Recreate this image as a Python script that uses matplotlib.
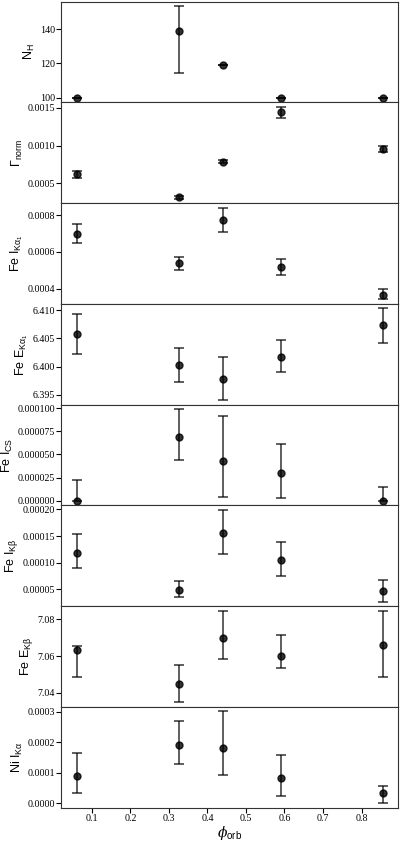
import numpy as np
import matplotlib
matplotlib.use('Agg')
import matplotlib.pyplot as plt

plt.rcParams['font.family'] = 'Liberation Serif'
plt.rcParams['mathtext.fontset'] = 'custom'
plt.rcParams['mathtext.rm'] = 'Liberation Sans'
plt.rcParams['mathtext.it'] = 'DejaVu Serif:italic'
plt.rcParams['mathtext.default'] = 'regular'

# orbital phase of each observation
phase = [0.06, 0.325, 0.44, 0.59, 0.855]

# fitted parameters: value, lower error, upper error
nh = [100, 139, 119, 100, 100]
nh_lo = [0, 24.7, 0, 0, 0]
nh_hi = [0, 14.3, 0, 0, 0]

gamma = [0.00062, 0.000317, 0.000782, 0.00144, 0.000955]
gamma_lo = [0.000045, 0.00002, 0.00002, 0.00007, 0.00004]
gamma_hi = [0.000045, 0.00002, 0.00002, 0.00007, 0.00004]

ika1 = [0.000696, 0.000538, 0.000773, 0.000518, 0.000367]
ika1_lo = [0.000049, 0.000038, 0.000064, 0.000042, 0.000025]
ika1_hi = [0.000055, 0.000036, 0.000067, 0.000043, 0.000033]

eka1 = [6.40577, 6.40023, 6.39786, 6.40178, 6.40731]
eka1_lo = [0.00356, 0.00303, 0.0038, 0.00272, 0.00315]
eka1_hi = [0.00347, 0.00304, 0.00379, 0.00297, 0.00299]

ics = [0.0, 0.0000689, 0.0000432, 0.0000296, 0.0]
ics_lo = [0.0, 0.0000243, 0.0000386, 0.0000271, 0.0]
ics_hi = [0.0000225, 0.00003, 0.0000482, 0.0000318, 0.0000146]

ikb = [0.000119, 0.0000489, 0.000156, 0.000106, 0.0000463]
ikb_lo = [0.0000296, 0.0000138, 0.000039, 0.0000309, 0.0000192]
ikb_hi = [0.000034, 0.0000166, 0.000043, 0.000033, 0.0000218]

ekb = [7.0635, 7.0446, 7.0701, 7.0598, 7.0659]
ekb_lo = [0.0152, 0.0099, 0.0115, 0.0066, 0.0175]
ekb_hi = [0.0018, 0.0107, 0.0147, 0.0115, 0.0187]

nika = [0.0000902, 0.000192, 0.000182, 0.000083, 0.000034]
nika_lo = [0.0000575, 0.000063, 0.000089, 0.000061, 0.000034]
nika_hi = [0.000075, 0.000076, 0.000119, 0.000076, 0.000021]

labels = [r'N$_{H}$', r'$\Gamma_{norm}$', r'Fe I$_{K\alpha_1}$', r'Fe E$_{K\alpha_1}$',
          r'Fe I$_{CS}$', r'Fe I$_{K\beta}$', r'Fe E$_{K\beta}$', r'Ni I$_{K\alpha}$']
values = [nh, gamma, ika1, eka1, ics, ikb, ekb, nika]
lows = [nh_lo, gamma_lo, ika1_lo, eka1_lo, ics_lo, ikb_lo, ekb_lo, nika_lo]
highs = [nh_hi, gamma_hi, ika1_hi, eka1_hi, ics_hi, ikb_hi, ekb_hi, nika_hi]
yticks = [[100, 120, 140],
          [0.0005, 0.0010, 0.0015],
          [0.0004, 0.0006, 0.0008],
          [6.395, 6.400, 6.405, 6.410],
          [0.0, 0.000025, 0.00005, 0.000075, 0.0001],
          [0.00005, 0.0001, 0.00015, 0.0002],
          [7.04, 7.06, 7.08],
          [0.0, 0.0001, 0.0002, 0.0003]]
yfmt = ['{:.0f}', '{:.4f}', '{:.4f}', '{:.3f}', '{:.6f}', '{:.5f}', '{:.2f}', '{:.4f}']

fig, axes = plt.subplots(8, 1, figsize=(4, 8.43), dpi=100, sharex=True)
fig.subplots_adjust(left=0.153, right=0.995, top=0.998, bottom=0.042, hspace=0)

for i, ax in enumerate(axes):
    ax.errorbar(phase, values[i], yerr=[lows[i], highs[i]], fmt='o', color='k',
                ms=5, alpha=0.8, capsize=3.5, elinewidth=1.1, capthick=1.1)
    ax.set_yticks(yticks[i])
    ax.set_yticklabels([yfmt[i].format(v) for v in yticks[i]])
    ax.set_ylabel(labels[i], fontsize=9, family='Liberation Sans', labelpad=2)
    ax.tick_params(axis='both', labelsize=7.2, length=3.5, pad=1)
    for side in ['right', 'left', 'top', 'bottom']:
        ax.spines[side].set_color('#333333')

axes[-1].set_xticks([0.1, 0.2, 0.3, 0.4, 0.5, 0.6, 0.7, 0.8])
axes[-1].set_xlabel(r'$\mathit{\phi}_{orb}$', fontsize=10, labelpad=1,
                    family='Liberation Sans')

fig.savefig('out.png', dpi=100)
